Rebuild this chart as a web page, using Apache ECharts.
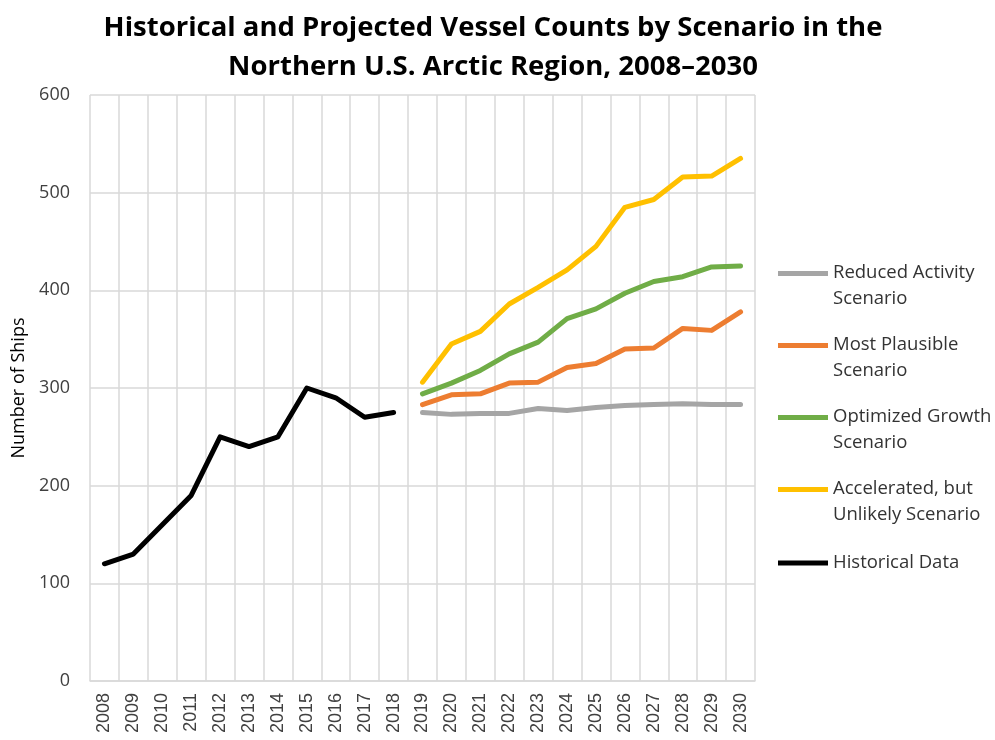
<!DOCTYPE html>
<html>
<head>
    <meta charset="utf-8">
    <title>Vessel Counts</title>
    <script src="https://cdn.jsdelivr.net/npm/echarts@6/dist/echarts.min.js"></script>
    <style>
        html, body { margin: 0; padding: 0; background: #fff; }
        #main { width: 995px; height: 740px; }
    </style>
</head>
<body>
    <div id="main"></div>
    <script>
        // data
        var years = ['2008', '2009', '2010', '2011', '2012', '2013', '2014', '2015', '2016', '2017', '2018', '2019',
            '2020', '2021', '2022', '2023', '2024', '2025', '2026', '2027', '2028', '2029', '2030'];
        var historical = [120, 130, 160, 190, 250, 240, 250, 300, 290, 270, 275];
        var reduced = [275, 273, 274, 274, 279, 277, 280, 282, 283, 284, 283, 283];
        var plausible = [283, 293, 294, 305, 306, 321, 325, 340, 341, 361, 359, 378];
        var optimized = [294, 305, 318, 335, 347, 371, 381, 397, 409, 414, 424, 425];
        var accelerated = [306, 345, 358, 386, 403, 421, 445, 485, 493, 516, 517, 535];
        var yTicks = [0, 100, 200, 300, 400, 500, 600];

        var font = '"Open Sans", "Noto Sans", sans-serif';
        var nHist = historical.length;

        function pad(arr, before) {
            var out = [];
            for (var i = 0; i < years.length; i++) {
                var j = i - before;
                out.push(j >= 0 && j < arr.length ? arr[j] : null);
            }
            return out;
        }

        function lineSeries(name, data, color) {
            return {
                name: name,
                type: 'line',
                data: data,
                showSymbol: false,
                symbol: 'none',
                color: color,
                lineStyle: { width: 5, color: color, cap: 'round', join: 'round' },
                emphasis: { disabled: true }
            };
        }

        // icon sits on the first text line
        var iconTwo = 'path://M0,0H50V5H0ZM0,30H50';
        var iconOne = 'path://M0,0H50M0,12.5H50V17.5H0ZM0,30H50';

        var myChart = echarts.init(document.getElementById('main'));
        var option = {
            animation: false,
            title: {
                text: 'Historical and Projected Vessel Counts by Scenario in the\nNorthern U.S. Arctic Region, 2008\u20132030',
                left: 488,
                textAlign: 'center',
                top: 4,
                textStyle: { fontFamily: font, fontWeight: 'bold', fontSize: 27.5, lineHeight: 39, color: '#000' }
            },
            legend: {
                orient: 'vertical',
                left: 778,
                top: 260,
                padding: 0,
                itemWidth: 50,
                itemHeight: 30,
                itemGap: 20,
                itemStyle: { borderWidth: 0 },
                textStyle: { fontFamily: font, fontSize: 18.5, lineHeight: 26, color: '#333' },
                data: [
                    { name: 'Reduced Activity\nScenario', icon: iconTwo },
                    { name: 'Most Plausible\nScenario', icon: iconTwo },
                    { name: 'Optimized Growth\nScenario', icon: iconTwo },
                    { name: 'Accelerated, but\nUnlikely Scenario', icon: iconTwo },
                    { name: 'Historical Data', icon: iconOne }
                ]
            },
            grid: { left: 90, right: 240, top: 95, bottom: 59, containLabel: false },
            xAxis: {
                type: 'category',
                data: years,
                boundaryGap: true,
                axisLine: { show: true, lineStyle: { color: '#d9d9d9', width: 1.5 } },
                axisTick: { show: false },
                axisLabel: { rotate: 90, interval: 0, margin: 12, fontFamily: '"Liberation Sans", Arial, sans-serif', fontSize: 18, color: '#404040' },
                splitLine: { show: true, interval: 0, lineStyle: { color: '#d9d9d9', width: 1.5 } }
            },
            yAxis: {
                type: 'value',
                min: yTicks[0],
                max: yTicks[yTicks.length - 1],
                interval: 100,
                name: 'Number of Ships',
                nameLocation: 'middle',
                nameGap: 62,
                nameTextStyle: { fontFamily: font, fontSize: 18, color: '#000' },
                axisLine: { show: false },
                axisTick: { show: false },
                axisLabel: { margin: 20, fontFamily: font, fontSize: 18, color: '#404040' },
                splitLine: { show: true, lineStyle: { color: '#d9d9d9', width: 1.5 } }
            },
            series: [
                lineSeries('Reduced Activity\nScenario', pad(reduced, nHist), '#A5A5A5'),
                lineSeries('Most Plausible\nScenario', pad(plausible, nHist), '#ED7D31'),
                lineSeries('Optimized Growth\nScenario', pad(optimized, nHist), '#70AD47'),
                lineSeries('Accelerated, but\nUnlikely Scenario', pad(accelerated, nHist), '#FFC000'),
                lineSeries('Historical Data', pad(historical, 0), '#000000')
            ]
        };
        myChart.setOption(option);
    </script>
</body>
</html>
